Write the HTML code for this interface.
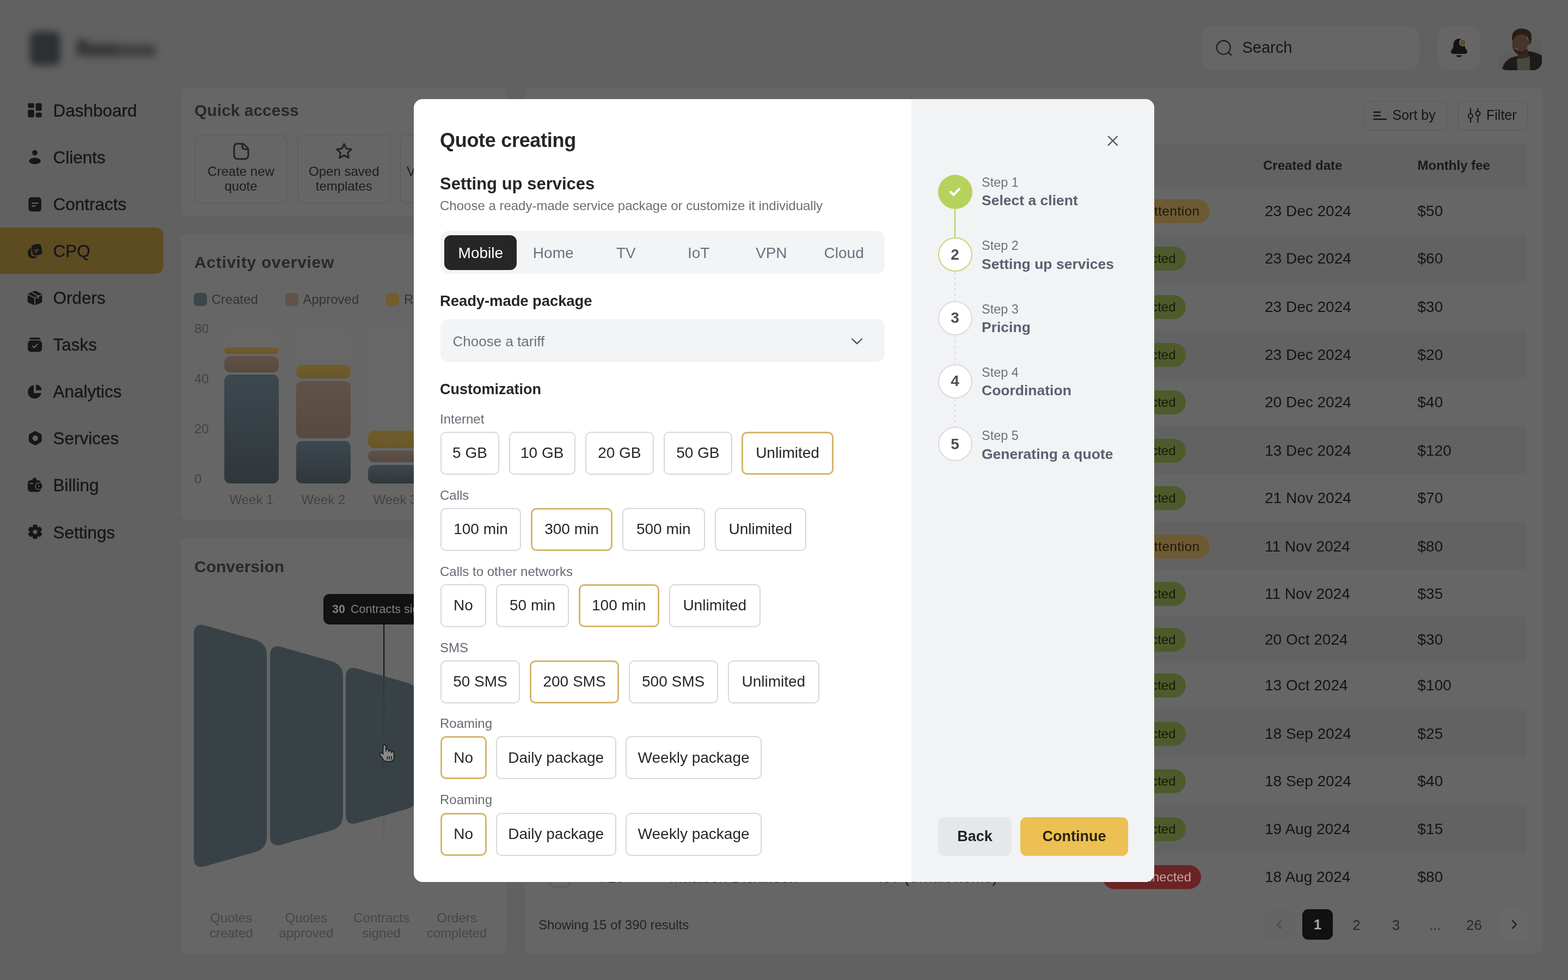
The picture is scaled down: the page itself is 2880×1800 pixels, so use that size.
<!DOCTYPE html>
<html lang="en"><head><meta charset="utf-8"><title>Quote creating</title><style>
*{margin:0;padding:0;box-sizing:border-box}
html,body{width:2880px;height:1800px;overflow:hidden}
body{position:relative;background:#616161;font-family:"Liberation Sans",Arial,sans-serif;color:#171717}
.a{position:absolute}
.t{position:absolute;line-height:1;white-space:nowrap}
.card{position:absolute;background:#666666;border-radius:12px}
.opt{position:absolute;height:79px;border:2px solid #d6d8de;border-radius:10px;background:#fff;display:flex;align-items:center;justify-content:center;font-size:28px;color:#262628;white-space:nowrap}
.opt.sel{border:3px solid #d4b66c;background:#fff}
.lbl{color:#6b717d}
svg{position:absolute;overflow:visible}
</style></head><body>
<div class="a" style="left:0;top:0;width:340px;height:160px;filter:blur(7px)"><div class="a" style="left:55px;top:58px;width:56px;height:62px;border-radius:12px;background:#2c3032"></div><div class="a" style="left:140px;top:72px;width:22px;height:30px;border-radius:5px;background:#383838"></div><div class="a" style="left:150px;top:80px;width:70px;height:24px;border-radius:6px;background:#3a3a3a"></div><div class="a" style="left:214px;top:82px;width:72px;height:22px;border-radius:6px;background:#404040"></div></div>
<div class="a " style="left:-20.0px;top:418.0px;width:320.0px;height:85.0px;background:#5d4b22;border-radius:14px;"></div>
<svg style="left:51px;top:189.3px" width="26" height="27" viewBox="0 0 26 27" fill="#171717"><rect x="0.2" y="0.6" width="11.6" height="8.6" rx="2.6"/><rect x="0.2" y="12.6" width="11.6" height="13.8" rx="2.6"/><rect x="14.6" y="0.6" width="11" height="14" rx="2.6"/><rect x="14.6" y="17.7" width="11" height="8.7" rx="2.6"/></svg>
<div class="t " style="left:97.5px;top:187.6px;font-size:31.5px;color:#171717;-webkit-text-stroke:0.35px #171717;">Dashboard</div>
<svg style="left:51px;top:275.4px" width="26" height="27" viewBox="0 0 26 27" fill="#171717"><circle cx="12.9" cy="5.6" r="4.9"/><ellipse cx="13" cy="20.6" rx="10.8" ry="5.8"/></svg>
<div class="t " style="left:97.5px;top:273.7px;font-size:31.5px;color:#171717;-webkit-text-stroke:0.35px #171717;">Clients</div>
<svg style="left:51px;top:361.5px" width="26" height="27" viewBox="0 0 26 27" fill="#171717"><rect x="1.3" y="0.2" width="23.6" height="26.4" rx="5.5"/><rect x="7" y="10" width="12.5" height="2.3" rx="1.1" fill="#616161"/><rect x="7" y="15.2" width="7.8" height="2.3" rx="1.1" fill="#616161"/></svg>
<div class="t " style="left:97.5px;top:359.8px;font-size:31.5px;color:#171717;-webkit-text-stroke:0.35px #171717;">Contracts</div>
<svg style="left:51px;top:447.6px" width="26" height="27" viewBox="0 0 26 27" fill="#171717"><path d="M6.5 7.5 Q1.5 9 0.4 13 L0.2 18 Q0.5 24 6 26 Q10 27.2 15 25.2 L18 23.5 L9 22.5 Q5.5 21.5 6 17.5 Z"/><g transform="rotate(-11 16.7 10.7)"><rect x="7.7" y="0.7" width="18" height="20" rx="5"/><rect x="11.5" y="9.8" width="9" height="2.1" rx="1" fill="#5d4b22"/><rect x="11.5" y="13.3" width="6.5" height="2.1" rx="1" fill="#5d4b22"/></g></svg>
<div class="t " style="left:97.5px;top:445.9px;font-size:31.5px;color:#171717;-webkit-text-stroke:0.35px #171717;">CPQ</div>
<svg style="left:51px;top:533.7px" width="26" height="27" viewBox="0 0 26 27" fill="#171717"><path d="M13 0.3 Q14.5 0.3 16 1 L24 5 Q26.4 6.2 26.4 9 L26.4 18.5 Q26.4 21 24 22.3 L15.5 26 Q13 27 10.5 26 L2 22.3 Q-0.3 21 -0.3 18.5 L-0.3 9 Q-0.3 6.2 2 5 L10 1 Q11.5 0.3 13 0.3 Z"/><path d="M0.5 7.2 L13 13.3 L25.5 7.2 M13 13.3 L13 27" stroke="#616161" stroke-width="1.8" fill="none"/><path d="M7.3 3.3 L19.2 9.5 L19.2 15.5" stroke="#616161" stroke-width="1.8" fill="none"/></svg>
<div class="t " style="left:97.5px;top:532.0px;font-size:31.5px;color:#171717;-webkit-text-stroke:0.35px #171717;">Orders</div>
<svg style="left:51px;top:619.8px" width="26" height="27" viewBox="0 0 26 27" fill="#171717"><path d="M2.5 3.4 Q3 0 7 0 L19 0 Q23 0 23.6 3.4 Z"/><rect x="0" y="5.2" width="26.1" height="21" rx="6"/><path d="M9 15.5 L12 18.5 L17.5 12.5" stroke="#616161" stroke-width="2.2" fill="none" stroke-linecap="round" stroke-linejoin="round"/></svg>
<div class="t " style="left:97.5px;top:618.1px;font-size:31.5px;color:#171717;-webkit-text-stroke:0.35px #171717;">Tasks</div>
<svg style="left:51px;top:705.9px" width="26" height="27" viewBox="0 0 26 27" fill="#171717"><path d="M11 1.5 L11 16 L24.8 16 A12.4 12.4 0 1 1 11 1.5 Z"/><path d="M15.2 0.5 A10.3 10.3 0 0 1 25.5 10.8 L15.2 10.8 Z"/></svg>
<div class="t " style="left:97.5px;top:704.2px;font-size:31.5px;color:#171717;-webkit-text-stroke:0.35px #171717;">Analytics</div>
<svg style="left:51px;top:792.0px" width="26" height="27" viewBox="0 0 26 27" fill="#171717"><path d="M12 0.2 Q13.7 -0.6 15.4 0.2 L23.8 5 Q25.5 6 25.5 8 L25.5 17.6 Q25.5 19.6 23.8 20.6 L15.4 25.4 Q13.7 26.2 12 25.4 L3.6 20.6 Q1.9 19.6 1.9 17.6 L1.9 8 Q1.9 6 3.6 5 Z"/><circle cx="13.7" cy="12.8" r="5.2" fill="#616161"/></svg>
<div class="t " style="left:97.5px;top:790.3px;font-size:31.5px;color:#171717;-webkit-text-stroke:0.35px #171717;">Services</div>
<svg style="left:51px;top:878.1px" width="26" height="27" viewBox="0 0 26 27" fill="#171717"><path d="M8.3 3.9 Q9 -0.4 12.4 -0.4 Q15.8 -0.4 16.5 3.9 Z"/><rect x="0" y="3.9" width="24.2" height="21.5" rx="5.5"/><rect x="3.6" y="9.1" width="6.5" height="1.8" rx="0.9" fill="#616161"/><rect x="13.6" y="8.3" width="13.4" height="13.2" rx="5.3" fill="#616161"/><rect x="15" y="9.6" width="11.4" height="10.6" rx="4.4"/><circle cx="20.4" cy="14.8" r="1.5" fill="#616161"/></svg>
<div class="t " style="left:97.5px;top:876.4px;font-size:31.5px;color:#171717;-webkit-text-stroke:0.35px #171717;">Billing</div>
<svg style="left:51px;top:964.2px" width="26" height="27" viewBox="0 0 26 27" fill="#171717"><g transform="translate(13.5 12.8)"><rect x="-4.4" y="-13.2" width="8.8" height="26.4" rx="3.6"/><rect x="-4.4" y="-13.2" width="8.8" height="26.4" rx="3.6" transform="rotate(60)"/><rect x="-4.4" y="-13.2" width="8.8" height="26.4" rx="3.6" transform="rotate(120)"/><circle r="9.3"/><circle r="3.9" fill="#616161"/></g></svg>
<div class="t " style="left:97.5px;top:962.5px;font-size:31.5px;color:#171717;-webkit-text-stroke:0.35px #171717;">Settings</div>
<div class="a " style="left:2208.0px;top:49.0px;width:399.0px;height:79.0px;background:#666666;border-radius:18px;"></div>
<svg style="left:2232px;top:72px" width="34" height="34" viewBox="0 0 34 34" fill="none" stroke="#131313" stroke-width="1.9" stroke-linecap="round"><circle cx="15.3" cy="15.3" r="12.5"/><path d="M24.3 24.3 L29.6 29.3"/></svg>
<div class="t " style="left:2281.5px;top:72.7px;font-size:29px;color:#161616;">Search</div>
<div class="a " style="left:2640.0px;top:49.0px;width:79.0px;height:79.0px;background:#666666;border-radius:18px;"></div>
<svg style="left:2655px;top:60px" width="50" height="50" viewBox="0 0 50 50"><path d="M24.5 11.2 C18.5 11.2 15 15.5 14.6 21 L14.2 26.5 C13.8 30 10 31.5 10 34.8 C10 37.6 12.3 39 15.5 39 L34.5 39 C37.7 39 40 37.6 40 34.8 C40 31.5 36.2 30 35.8 26.5 L35.4 21 C35 15.5 31 11.2 25.5 11.2 Z" fill="#141414"/><path d="M19.5 41.6 L30 41.6 Q29.2 45 24.75 45 Q20.3 45 19.5 41.6 Z" fill="#141414"/><circle cx="31.8" cy="18.2" r="6.8" fill="#75746f"/><circle cx="31.8" cy="18.2" r="5.2" fill="#5c4d22"/></svg>
<div class="a" style="left:2752px;top:49px;width:80px;height:80px;border-radius:16px;overflow:hidden;background:linear-gradient(160deg,#626262 0%,#606060 45%,#545452 100%)"><svg style="left:0;top:0;filter:blur(0.4px)" width="80" height="80" viewBox="0 0 80 80"><path d="M6 80 L10 70 Q16 58 30 55 L36 54 L56 45 Q70 47 80 53 L80 80 Z" fill="#1d1a18"/><path d="M34 58 Q46 60 58 54 L58 80 L35 80 Z" fill="#4a4743"/><path d="M35 44 L54 41 L56 55 Q45 60 36 57 Z" fill="#36271e"/><ellipse cx="40" cy="30" rx="14.5" ry="19" fill="#48342a"/><path d="M25 23 Q24 6 40 3.6 Q55 3 60 12 Q62 20 60 31 L56.5 28 Q55 16 45 14 Q33 13 27 25 Z" fill="#2b1d15"/><ellipse cx="56" cy="29" rx="3" ry="4.5" fill="#44312a"/><path d="M26 35 Q28 50 40 51 Q50 50 54 40 Q50 46 42 46 Q33 45 26 35 Z" fill="#2d1f17"/><path d="M28.5 39.5 Q32 42.5 37 40.5" stroke="#6b5446" stroke-width="1.6" fill="none"/></svg></div>
<div class="card" style="left:332px;top:161px;width:599px;height:236px"></div>
<div class="t " style="left:357.0px;top:188.3px;font-size:30px;color:#262a2d;font-weight:700;">Quick access</div>
<div class="a " style="left:357.0px;top:247.0px;width:171.0px;height:127.0px;border:2px solid #5f5f5f;border-radius:12px;"></div>
<div class="a " style="left:546.0px;top:247.0px;width:172.0px;height:127.0px;border:2px solid #5f5f5f;border-radius:12px;"></div>
<div class="a " style="left:734.0px;top:247.0px;width:172.0px;height:127.0px;border:2px solid #5f5f5f;border-radius:12px;"></div>
<svg style="left:428px;top:262px" width="30" height="32" viewBox="0 0 30 32" fill="none" stroke="#202224" stroke-width="3" stroke-linejoin="round"><path d="M8 2 L17 2 Q19 2 21 4 L26 9 Q28 11 28 13 L28 23 Q28 30 21 30 L9 30 Q2 30 2 23 L2 9 Q2 2 8 2 Z"/><path d="M17 2.5 L17 7 Q17 12 22 12 L27.5 12"/></svg>
<svg style="left:616px;top:262px" width="32" height="32" viewBox="0 0 32 32" fill="none" stroke="#202224" stroke-width="3" stroke-linejoin="round"><path d="M16 2.5 L20 11 L29.5 12.2 L22.6 18.7 L24.4 28 L16 23.4 L7.6 28 L9.4 18.7 L2.5 12.2 L12 11 Z"/></svg>
<div class="t " style="left:442.5px;top:303.1px;font-size:24px;color:#1c1c1c;transform:translateX(-50%);">Create new</div>
<div class="t " style="left:442.5px;top:330.3px;font-size:24px;color:#1c1c1c;transform:translateX(-50%);">quote</div>
<div class="t " style="left:631.8px;top:303.1px;font-size:24px;color:#1c1c1c;transform:translateX(-50%);">Open saved</div>
<div class="t " style="left:631.8px;top:330.3px;font-size:24px;color:#1c1c1c;transform:translateX(-50%);">templates</div>
<div class="t " style="left:747.0px;top:303.1px;font-size:24px;color:#1c1c1c;">View all</div>
<div class="card" style="left:332px;top:430px;width:599px;height:525px"></div>
<div class="t " style="left:357.0px;top:467.3px;font-size:30px;color:#262a2d;font-weight:700;letter-spacing:0.7px;">Activity overview</div>
<div class="a " style="left:355.5px;top:538.0px;width:24.0px;height:24.0px;background:#3b464c;border-radius:6px;"></div>
<div class="t " style="left:388.5px;top:538.2px;font-size:24px;color:#303438;">Created</div>
<div class="a " style="left:523.5px;top:538.0px;width:24.0px;height:24.0px;background:#61534a;border-radius:6px;"></div>
<div class="t " style="left:556.5px;top:538.2px;font-size:24px;color:#303438;">Approved</div>
<div class="a " style="left:709.0px;top:538.0px;width:24.0px;height:24.0px;background:#715e2b;border-radius:6px;"></div>
<div class="t " style="left:742.0px;top:538.2px;font-size:24px;color:#303438;">Rejected</div>
<div class="t " style="left:357.0px;top:591.9px;font-size:24px;color:#404347;">80</div>
<div class="t " style="left:357.0px;top:683.9px;font-size:24px;color:#404347;">40</div>
<div class="t " style="left:357.0px;top:776.3px;font-size:24px;color:#404347;">20</div>
<div class="t " style="left:357.0px;top:867.6px;font-size:24px;color:#404347;">0</div>
<div class="a " style="left:412.0px;top:604.0px;width:100.0px;height:283.0px;background:#676767;border-radius:12px;"></div>
<div class="a " style="left:412.0px;top:638.0px;width:100.0px;height:12.0px;background:linear-gradient(180deg,#715c2b,#6a5729);border-radius:6px;"></div>
<div class="a " style="left:412.0px;top:654.0px;width:100.0px;height:30.0px;background:linear-gradient(180deg,#605249,#56493f);border-radius:11px;"></div>
<div class="a " style="left:412.0px;top:688.0px;width:100.0px;height:200.0px;background:linear-gradient(180deg,#3c484f,#30373b);border-radius:11px;"></div>
<div class="a " style="left:544.0px;top:604.0px;width:100.0px;height:283.0px;background:#676767;border-radius:12px;"></div>
<div class="a " style="left:544.0px;top:670.0px;width:100.0px;height:25.0px;background:linear-gradient(180deg,#715c2b,#6a5729);border-radius:11px;"></div>
<div class="a " style="left:544.0px;top:700.0px;width:100.0px;height:105.0px;background:linear-gradient(180deg,#605249,#56493f);border-radius:11px;"></div>
<div class="a " style="left:544.0px;top:810.0px;width:100.0px;height:78.0px;background:linear-gradient(180deg,#3c484f,#30373b);border-radius:11px;"></div>
<div class="a " style="left:676.0px;top:604.0px;width:100.0px;height:283.0px;background:#676767;border-radius:12px;"></div>
<div class="a " style="left:676.0px;top:791.0px;width:100.0px;height:32.0px;background:linear-gradient(180deg,#715c2b,#6a5729);border-radius:11px;"></div>
<div class="a " style="left:676.0px;top:828.0px;width:100.0px;height:21.0px;background:linear-gradient(180deg,#605249,#56493f);border-radius:10px;"></div>
<div class="a " style="left:676.0px;top:853.5px;width:100.0px;height:34.5px;background:linear-gradient(180deg,#3c484f,#30373b);border-radius:11px;"></div>
<div class="t " style="left:462.0px;top:906.2px;font-size:24px;color:#404347;transform:translateX(-50%);">Week 1</div>
<div class="t " style="left:594.0px;top:906.2px;font-size:24px;color:#404347;transform:translateX(-50%);">Week 2</div>
<div class="t " style="left:726.0px;top:906.2px;font-size:24px;color:#404347;transform:translateX(-50%);">Week 3</div>
<div class="t " style="left:858.0px;top:906.2px;font-size:24px;color:#404347;transform:translateX(-50%);">Week 4</div>
<div class="card" style="left:332px;top:988px;width:599px;height:763px"></div>
<div class="t " style="left:357.0px;top:1025.6px;font-size:30px;color:#262a2d;font-weight:700;">Conversion</div>
<svg style="left:0;top:0" width="2880" height="1800" viewBox="0 0 2880 1800"><defs><linearGradient id="vlg" gradientUnits="userSpaceOnUse" x1="0" y1="1146" x2="0" y2="1585"><stop offset="0" stop-color="#111" stop-opacity="1"/><stop offset="0.237" stop-color="#111" stop-opacity="1"/><stop offset="0.76" stop-color="#111" stop-opacity="0.15"/><stop offset="1" stop-color="#111" stop-opacity="0"/></linearGradient></defs><rect x="704.2" y="1146" width="2" height="439" fill="url(#vlg)"/><path d="M356.0 1165.0 Q356.0 1143.0 377.2 1149.0 L468.8 1174.9 Q490.0 1180.9 490.0 1202.9 L490.0 1536.9 Q490.0 1558.9 468.8 1565.0 L377.2 1591.0 Q356.0 1597.0 356.0 1575.0 Z" fill="#333e42" fill-opacity="0.9"/><path d="M496.0 1204.6 Q496.0 1182.6 517.2 1188.6 L608.8 1214.6 Q630.0 1220.5 630.0 1242.5 L630.0 1497.2 Q630.0 1519.2 608.8 1525.2 L517.2 1551.2 Q496.0 1557.2 496.0 1535.2 Z" fill="#333e42" fill-opacity="0.9"/><path d="M635.0 1244.0 Q635.0 1222.0 656.2 1227.9 L747.8 1253.9 Q769.0 1259.9 769.0 1281.9 L769.0 1457.7 Q769.0 1479.7 747.8 1485.7 L656.2 1511.8 Q635.0 1517.8 635.0 1495.8 Z" fill="#333e42" fill-opacity="0.9"/><path d="M775.0 1283.6 Q775.0 1261.6 796.2 1267.6 L887.8 1293.5 Q909.0 1299.5 909.0 1321.5 L909.0 1417.9 Q909.0 1439.9 887.8 1446.0 L796.2 1472.0 Q775.0 1478.0 775.0 1456.0 Z" fill="#333e42" fill-opacity="0.9"/></svg>
<div class="a " style="left:594.0px;top:1091.0px;width:300.0px;height:56.0px;background:#121212;border-radius:11px;"></div>
<div class="t " style="left:610.0px;top:1109.3px;font-size:21.5px;color:#808080;font-weight:700;">30</div>
<div class="t " style="left:644.0px;top:1109.3px;font-size:21.5px;color:#808080;">Contracts signed</div>
<div class="t " style="left:424.7px;top:1673.7px;font-size:24px;color:#474747;transform:translateX(-50%);">Quotes</div>
<div class="t " style="left:424.7px;top:1701.7px;font-size:24px;color:#474747;transform:translateX(-50%);">created</div>
<div class="t " style="left:562.4px;top:1673.7px;font-size:24px;color:#474747;transform:translateX(-50%);">Quotes</div>
<div class="t " style="left:562.4px;top:1701.7px;font-size:24px;color:#474747;transform:translateX(-50%);">approved</div>
<div class="t " style="left:700.6px;top:1673.7px;font-size:24px;color:#474747;transform:translateX(-50%);">Contracts</div>
<div class="t " style="left:700.6px;top:1701.7px;font-size:24px;color:#474747;transform:translateX(-50%);">signed</div>
<div class="t " style="left:839.0px;top:1673.7px;font-size:24px;color:#474747;transform:translateX(-50%);">Orders</div>
<div class="t " style="left:839.0px;top:1701.7px;font-size:24px;color:#474747;transform:translateX(-50%);">completed</div>
<svg style="left:696.3px;top:1368px" width="28.9" height="32.3" viewBox="0 0 34 38"><path d="M9 3 Q9 0 12 0 Q15 0 15 3 L15 14 L15 12 Q15 9.5 18 9.5 Q21 9.5 21 12 L21 15 Q21 12.5 24 12.5 Q27 12.5 27 15 L27 17 Q27 15 29.5 15 Q32.5 15 32.5 18 L32.5 27 Q32.5 36 24 36 L17 36 Q12 36 9 31 L2.5 22 Q1 19.5 3.5 18 Q6 16.5 8 19 L9 20.5 Z" fill="#8a8a8a" stroke="#1a1a1a" stroke-width="2" stroke-linejoin="round"/><path d="M18 25 L18 31 M22.5 25 L22.5 31 M27 25 L27 31" stroke="#1a1a1a" stroke-width="2" stroke-linecap="round"/></svg>
<div class="card" style="left:964px;top:161px;width:1869px;height:1591px"></div>
<div class="a " style="left:2505.0px;top:185.0px;width:154.0px;height:55.0px;border:2px solid #5f5f5f;border-radius:11px;"></div>
<svg style="left:2522px;top:204px" width="26" height="18" viewBox="0 0 26 18" stroke="#151515" stroke-width="2.4" stroke-linecap="round"><path d="M1.5 2 L13 2 M1.5 8.5 L13 8.5 M1.5 15 L24 15"/></svg>
<div class="t " style="left:2557.5px;top:198.8px;font-size:25px;color:#151515;">Sort by</div>
<div class="a " style="left:2677.0px;top:185.0px;width:130.0px;height:55.0px;border:2px solid #5f5f5f;border-radius:11px;"></div>
<svg style="left:2695px;top:198px" width="26" height="28" viewBox="0 0 26 28" fill="none" stroke="#151515" stroke-width="2.2" stroke-linecap="round"><path d="M6 1.5 L6 11 M6 19 L6 26.5 M19.5 1.5 L19.5 6.5 M19.5 14.5 L19.5 26.5"/><circle cx="6" cy="15" r="4"/><circle cx="19.5" cy="10.5" r="4"/></svg>
<div class="t " style="left:2730.0px;top:198.8px;font-size:25px;color:#151515;">Filter</div>
<div class="a " style="left:989.0px;top:264.5px;width:1814.0px;height:80.0px;background:#626262;"></div>
<div class="t " style="left:2320.0px;top:292.0px;font-size:24px;color:#1a1a1a;font-weight:700;">Created date</div>
<div class="t " style="left:2603.5px;top:292.0px;font-size:24px;color:#1a1a1a;font-weight:700;">Monthly fee</div>
<div class="a " style="left:989.0px;top:431.2px;width:1814.0px;height:88.0px;background:#626262;"></div>
<div class="a " style="left:989.0px;top:607.5px;width:1814.0px;height:87.8px;background:#626262;"></div>
<div class="a " style="left:989.0px;top:783.2px;width:1814.0px;height:88.0px;background:#626262;"></div>
<div class="a " style="left:989.0px;top:959.2px;width:1814.0px;height:88.0px;background:#626262;"></div>
<div class="a " style="left:989.0px;top:1133.0px;width:1814.0px;height:84.0px;background:#626262;"></div>
<div class="a " style="left:989.0px;top:1303.2px;width:1814.0px;height:88.0px;background:#626262;"></div>
<div class="a " style="left:989.0px;top:1479.0px;width:1814.0px;height:88.0px;background:#626262;"></div>
<div class="a " style="left:1971.6px;top:365.5px;width:250.0px;height:44.0px;background:#6d5a33;border-radius:22px;display:flex;align-items:center;justify-content:flex-end;padding-right:18px;font-size:24px;color:#1e1708;white-space:nowrap;letter-spacing:0.6px;">Needs attention</div>
<div class="t " style="left:2323.0px;top:373.8px;font-size:28px;color:#141414;">23 Dec 2024</div>
<div class="t " style="left:2603.5px;top:373.8px;font-size:28px;color:#141414;">$50</div>
<div class="a " style="left:2017.5px;top:453.0px;width:160.0px;height:44.0px;background:#4e5a2b;border-radius:22px;display:flex;align-items:center;justify-content:flex-end;padding-right:18px;font-size:24px;color:#141a06;white-space:nowrap;">Connected</div>
<div class="t " style="left:2323.0px;top:461.3px;font-size:28px;color:#141414;">23 Dec 2024</div>
<div class="t " style="left:2603.5px;top:461.3px;font-size:28px;color:#141414;">$60</div>
<div class="a " style="left:2017.5px;top:541.5px;width:160.0px;height:44.0px;background:#4e5a2b;border-radius:22px;display:flex;align-items:center;justify-content:flex-end;padding-right:18px;font-size:24px;color:#141a06;white-space:nowrap;">Connected</div>
<div class="t " style="left:2323.0px;top:549.8px;font-size:28px;color:#141414;">23 Dec 2024</div>
<div class="t " style="left:2603.5px;top:549.8px;font-size:28px;color:#141414;">$30</div>
<div class="a " style="left:2017.5px;top:629.5px;width:160.0px;height:44.0px;background:#4e5a2b;border-radius:22px;display:flex;align-items:center;justify-content:flex-end;padding-right:18px;font-size:24px;color:#141a06;white-space:nowrap;">Connected</div>
<div class="t " style="left:2323.0px;top:637.8px;font-size:28px;color:#141414;">23 Dec 2024</div>
<div class="t " style="left:2603.5px;top:637.8px;font-size:28px;color:#141414;">$20</div>
<div class="a " style="left:2017.5px;top:717.0px;width:160.0px;height:44.0px;background:#4e5a2b;border-radius:22px;display:flex;align-items:center;justify-content:flex-end;padding-right:18px;font-size:24px;color:#141a06;white-space:nowrap;">Connected</div>
<div class="t " style="left:2323.0px;top:725.3px;font-size:28px;color:#141414;">20 Dec 2024</div>
<div class="t " style="left:2603.5px;top:725.3px;font-size:28px;color:#141414;">$40</div>
<div class="a " style="left:2017.5px;top:805.5px;width:160.0px;height:44.0px;background:#4e5a2b;border-radius:22px;display:flex;align-items:center;justify-content:flex-end;padding-right:18px;font-size:24px;color:#141a06;white-space:nowrap;">Connected</div>
<div class="t " style="left:2323.0px;top:813.8px;font-size:28px;color:#141414;">13 Dec 2024</div>
<div class="t " style="left:2603.5px;top:813.8px;font-size:28px;color:#141414;">$120</div>
<div class="a " style="left:2017.5px;top:893.0px;width:160.0px;height:44.0px;background:#4e5a2b;border-radius:22px;display:flex;align-items:center;justify-content:flex-end;padding-right:18px;font-size:24px;color:#141a06;white-space:nowrap;">Connected</div>
<div class="t " style="left:2323.0px;top:901.3px;font-size:28px;color:#141414;">21 Nov 2024</div>
<div class="t " style="left:2603.5px;top:901.3px;font-size:28px;color:#141414;">$70</div>
<div class="a " style="left:1971.6px;top:981.5px;width:250.0px;height:44.0px;background:#6d5a33;border-radius:22px;display:flex;align-items:center;justify-content:flex-end;padding-right:18px;font-size:24px;color:#1e1708;white-space:nowrap;letter-spacing:0.6px;">Needs attention</div>
<div class="t " style="left:2323.0px;top:989.8px;font-size:28px;color:#141414;">11 Nov 2024</div>
<div class="t " style="left:2603.5px;top:989.8px;font-size:28px;color:#141414;">$80</div>
<div class="a " style="left:2017.5px;top:1069.0px;width:160.0px;height:44.0px;background:#4e5a2b;border-radius:22px;display:flex;align-items:center;justify-content:flex-end;padding-right:18px;font-size:24px;color:#141a06;white-space:nowrap;">Connected</div>
<div class="t " style="left:2323.0px;top:1077.3px;font-size:28px;color:#141414;">11 Nov 2024</div>
<div class="t " style="left:2603.5px;top:1077.3px;font-size:28px;color:#141414;">$35</div>
<div class="a " style="left:2017.5px;top:1153.0px;width:160.0px;height:44.0px;background:#4e5a2b;border-radius:22px;display:flex;align-items:center;justify-content:flex-end;padding-right:18px;font-size:24px;color:#141a06;white-space:nowrap;">Connected</div>
<div class="t " style="left:2323.0px;top:1161.3px;font-size:28px;color:#141414;">20 Oct 2024</div>
<div class="t " style="left:2603.5px;top:1161.3px;font-size:28px;color:#141414;">$30</div>
<div class="a " style="left:2017.5px;top:1237.0px;width:160.0px;height:44.0px;background:#4e5a2b;border-radius:22px;display:flex;align-items:center;justify-content:flex-end;padding-right:18px;font-size:24px;color:#141a06;white-space:nowrap;">Connected</div>
<div class="t " style="left:2323.0px;top:1245.3px;font-size:28px;color:#141414;">13 Oct 2024</div>
<div class="t " style="left:2603.5px;top:1245.3px;font-size:28px;color:#141414;">$100</div>
<div class="a " style="left:2017.5px;top:1325.5px;width:160.0px;height:44.0px;background:#4e5a2b;border-radius:22px;display:flex;align-items:center;justify-content:flex-end;padding-right:18px;font-size:24px;color:#141a06;white-space:nowrap;">Connected</div>
<div class="t " style="left:2323.0px;top:1333.8px;font-size:28px;color:#141414;">18 Sep 2024</div>
<div class="t " style="left:2603.5px;top:1333.8px;font-size:28px;color:#141414;">$25</div>
<div class="a " style="left:2017.5px;top:1413.0px;width:160.0px;height:44.0px;background:#4e5a2b;border-radius:22px;display:flex;align-items:center;justify-content:flex-end;padding-right:18px;font-size:24px;color:#141a06;white-space:nowrap;">Connected</div>
<div class="t " style="left:2323.0px;top:1421.3px;font-size:28px;color:#141414;">18 Sep 2024</div>
<div class="t " style="left:2603.5px;top:1421.3px;font-size:28px;color:#141414;">$40</div>
<div class="a " style="left:2017.5px;top:1501.0px;width:160.0px;height:44.0px;background:#4e5a2b;border-radius:22px;display:flex;align-items:center;justify-content:flex-end;padding-right:18px;font-size:24px;color:#141a06;white-space:nowrap;">Connected</div>
<div class="t " style="left:2323.0px;top:1509.3px;font-size:28px;color:#141414;">19 Aug 2024</div>
<div class="t " style="left:2603.5px;top:1509.3px;font-size:28px;color:#141414;">$15</div>
<div class="a " style="left:2025.0px;top:1589.0px;width:181.0px;height:44.0px;background:#6a2424;border-radius:22px;display:flex;align-items:center;justify-content:flex-end;padding-right:18px;font-size:24px;color:#c9a3a3;white-space:nowrap;">Disconnected</div>
<div class="t " style="left:2323.0px;top:1597.3px;font-size:28px;color:#141414;">18 Aug 2024</div>
<div class="t " style="left:2603.5px;top:1597.3px;font-size:28px;color:#141414;">$80</div>
<div class="a " style="left:1009.0px;top:1592.0px;width:38.0px;height:38.0px;border:2px solid #5a5a5a;border-radius:8px;"></div>
<div class="t " style="left:1100.0px;top:1598.3px;font-size:28px;color:#141414;">#16</div>
<div class="t " style="left:1230.0px;top:1598.3px;font-size:28px;color:#141414;">Madison Dickinson</div>
<div class="t " style="left:1613.0px;top:1598.3px;font-size:28px;color:#141414;">IoT (Smart home)</div>
<div class="t " style="left:989.0px;top:1686.7px;font-size:24px;color:#232323;">Showing 15 of 390 results</div>
<div class="a " style="left:2322.0px;top:1670.0px;width:56.0px;height:56.0px;background:#646464;border-radius:11px;"></div>
<svg style="left:2340px;top:1688px" width="20" height="20" viewBox="0 0 20 20" fill="none" stroke="#4a4a4a" stroke-width="2.4" stroke-linecap="round" stroke-linejoin="round"><path d="M13 3 L6 10 L13 17"/></svg>
<div class="a " style="left:2392.0px;top:1670.0px;width:56.0px;height:56.0px;background:#111111;border-radius:11px;display:flex;align-items:center;justify-content:center;color:#a6a6a6;font-size:26px;font-weight:700">1</div>
<div class="t " style="left:2491.5px;top:1686.0px;font-size:26px;color:#2a2a2a;transform:translateX(-50%);">2</div>
<div class="t " style="left:2564.0px;top:1686.0px;font-size:26px;color:#2a2a2a;transform:translateX(-50%);">3</div>
<div class="t " style="left:2635.5px;top:1686.0px;font-size:26px;color:#2a2a2a;transform:translateX(-50%);">...</div>
<div class="t " style="left:2707.5px;top:1686.0px;font-size:26px;color:#2a2a2a;transform:translateX(-50%);">26</div>
<div class="a " style="left:2752.0px;top:1670.0px;width:56.0px;height:56.0px;background:#686868;border-radius:11px;"></div>
<svg style="left:2771px;top:1688px" width="20" height="20" viewBox="0 0 20 20" fill="none" stroke="#1a1a1a" stroke-width="2.4" stroke-linecap="round" stroke-linejoin="round"><path d="M7 3 L14 10 L7 17"/></svg>
<div class="a" style="left:760px;top:182px;width:1360px;height:1438px;border-radius:16px;overflow:hidden;background:#ffffff">
<div class="a" style="left:914px;top:0;width:446px;height:1438px;background:#f2f3f5"></div>
</div>
<div class="t " style="left:808.0px;top:239.5px;font-size:36px;color:#262626;font-weight:700;letter-spacing:-0.3px;">Quote creating</div>
<div class="t " style="left:808.0px;top:322.3px;font-size:31px;color:#262626;font-weight:700;">Setting up services</div>
<div class="t " style="left:808.0px;top:366.2px;font-size:24px;color:#6a6e77;">Choose a ready-made service package or customize it individually</div>
<div class="a " style="left:809.0px;top:424.0px;width:816.0px;height:79.0px;background:#f3f4f6;border-radius:15px;"></div>
<div class="a " style="left:816.0px;top:432.0px;width:133.0px;height:63.5px;background:#262626;border-radius:12px;"></div>
<div class="t " style="left:882.8px;top:451.1px;font-size:28px;color:#ffffff;transform:translateX(-50%);">Mobile</div>
<div class="t " style="left:1016.2px;top:451.1px;font-size:28px;color:#6b717d;transform:translateX(-50%);">Home</div>
<div class="t " style="left:1149.8px;top:451.1px;font-size:28px;color:#6b717d;transform:translateX(-50%);">TV</div>
<div class="t " style="left:1283.2px;top:451.1px;font-size:28px;color:#6b717d;transform:translateX(-50%);">IoT</div>
<div class="t " style="left:1416.8px;top:451.1px;font-size:28px;color:#6b717d;transform:translateX(-50%);">VPN</div>
<div class="t " style="left:1550.2px;top:451.1px;font-size:28px;color:#6b717d;transform:translateX(-50%);">Cloud</div>
<div class="t " style="left:808.0px;top:539.3px;font-size:27.5px;color:#262626;font-weight:700;letter-spacing:-0.1px;">Ready-made package</div>
<div class="a " style="left:809.0px;top:586.0px;width:816.0px;height:79.0px;background:#f3f4f6;border-radius:15px;"></div>
<div class="t " style="left:831.6px;top:614.0px;font-size:26px;color:#6b717d;">Choose a tariff</div>
<svg style="left:1563px;top:619.5px" width="22" height="14" viewBox="0 0 22 14" fill="none" stroke="#4b5059" stroke-width="2.4" stroke-linecap="round" stroke-linejoin="miter"><path d="M2 2.5 L11 11 L20 2.5"/></svg>
<div class="t " style="left:808.0px;top:701.8px;font-size:27px;color:#262626;font-weight:700;">Customization</div>
<div class="t " style="left:808.0px;top:758.1px;font-size:24px;color:#656a75;">Internet</div>
<div class="opt" style="left:809.0px;top:792.5px;width:108.0px">5 GB</div>
<div class="opt" style="left:934.5px;top:792.5px;width:122.5px">10 GB</div>
<div class="opt" style="left:1074.7px;top:792.5px;width:126.3px">20 GB</div>
<div class="opt" style="left:1218.7px;top:792.5px;width:126.3px">50 GB</div>
<div class="opt sel" style="left:1362.0px;top:792.5px;width:169.0px">Unlimited</div>
<div class="t " style="left:808.0px;top:897.7px;font-size:24px;color:#656a75;">Calls</div>
<div class="opt" style="left:809.0px;top:932.5px;width:148.0px">100 min</div>
<div class="opt sel" style="left:975.0px;top:932.5px;width:150.0px">300 min</div>
<div class="opt" style="left:1142.6px;top:932.5px;width:152.4px">500 min</div>
<div class="opt" style="left:1312.6px;top:932.5px;width:168.4px">Unlimited</div>
<div class="t " style="left:808.0px;top:1038.2px;font-size:24px;color:#656a75;">Calls to other networks</div>
<div class="opt" style="left:809.0px;top:1072.5px;width:84.0px">No</div>
<div class="opt" style="left:911.0px;top:1072.5px;width:134.0px">50 min</div>
<div class="opt sel" style="left:1062.7px;top:1072.5px;width:148.3px">100 min</div>
<div class="opt" style="left:1228.5px;top:1072.5px;width:168.5px">Unlimited</div>
<div class="t " style="left:808.0px;top:1177.7px;font-size:24px;color:#656a75;">SMS</div>
<div class="opt" style="left:809.0px;top:1212.5px;width:146.0px">50 SMS</div>
<div class="opt sel" style="left:973.0px;top:1212.5px;width:164.0px">200 SMS</div>
<div class="opt" style="left:1154.6px;top:1212.5px;width:164.0px">500 SMS</div>
<div class="opt" style="left:1336.7px;top:1212.5px;width:168.3px">Unlimited</div>
<div class="t " style="left:808.0px;top:1317.3px;font-size:24px;color:#656a75;">Roaming</div>
<div class="opt sel" style="left:809.0px;top:1352.1px;width:84.5px">No</div>
<div class="opt" style="left:910.8px;top:1352.1px;width:220.8px">Daily package</div>
<div class="opt" style="left:1148.9px;top:1352.1px;width:250.4px">Weekly package</div>
<div class="t " style="left:808.0px;top:1457.2px;font-size:24px;color:#656a75;">Roaming</div>
<div class="opt sel" style="left:809.0px;top:1492.5px;width:84.5px">No</div>
<div class="opt" style="left:910.8px;top:1492.5px;width:220.8px">Daily package</div>
<div class="opt" style="left:1148.9px;top:1492.5px;width:250.4px">Weekly package</div>
<svg style="left:2034px;top:248.5px" width="20" height="20" viewBox="0 0 20 20" stroke="#565b66" stroke-width="2.4" stroke-linecap="round"><path d="M1.8 1.5 L18 17.7 M18 1.5 L1.8 17.7"/></svg>
<svg style="left:0;top:0" width="2880" height="1800" viewBox="0 0 2880 1800"><line x1="1754" y1="383" x2="1754" y2="437" stroke="#b7d25c" stroke-width="2.2"/><line x1="1754" y1="499.3" x2="1754" y2="552.5" stroke="#d3d6db" stroke-width="1.6" stroke-dasharray="5 5"/><line x1="1754" y1="615.5" x2="1754" y2="668.5" stroke="#d3d6db" stroke-width="1.6" stroke-dasharray="5 5"/><line x1="1754" y1="731.5" x2="1754" y2="784.3" stroke="#d3d6db" stroke-width="1.6" stroke-dasharray="5 5"/></svg>
<div class="a" style="left:1722.5px;top:320.5px;width:63px;height:63px;border-radius:50%;background:#b7d25c"></div>
<svg style="left:1743px;top:344px" width="22" height="17" viewBox="0 0 22 17" fill="none" stroke="#ffffff" stroke-width="4" stroke-linecap="round" stroke-linejoin="round"><path d="M3 8.5 L8.5 14 L19 3"/></svg>
<div class="t " style="left:1803.0px;top:323.9px;font-size:23.5px;color:#6b717d;">Step 1</div>
<div class="t " style="left:1803.0px;top:355.3px;font-size:26.5px;color:#5b6070;font-weight:700;">Select a client</div>
<div class="a" style="left:1722.5px;top:436.3px;width:63px;height:63px;border-radius:50%;background:#ffffff;border:2px solid #c3d877;display:flex;align-items:center;justify-content:center;font-size:28px;font-weight:700;color:#4a4f5a">2</div>
<div class="t " style="left:1803.0px;top:440.2px;font-size:23.5px;color:#6b717d;">Step 2</div>
<div class="t " style="left:1803.0px;top:471.6px;font-size:26.5px;color:#5b6070;font-weight:700;">Setting up services</div>
<div class="a" style="left:1722.5px;top:552.5px;width:63px;height:63px;border-radius:50%;background:#ffffff;border:2px solid #d8dade;display:flex;align-items:center;justify-content:center;font-size:28px;font-weight:700;color:#4a4f5a">3</div>
<div class="t " style="left:1803.0px;top:556.5px;font-size:23.5px;color:#6b717d;">Step 3</div>
<div class="t " style="left:1803.0px;top:587.9px;font-size:26.5px;color:#5b6070;font-weight:700;">Pricing</div>
<div class="a" style="left:1722.5px;top:668.5px;width:63px;height:63px;border-radius:50%;background:#ffffff;border:2px solid #d8dade;display:flex;align-items:center;justify-content:center;font-size:28px;font-weight:700;color:#4a4f5a">4</div>
<div class="t " style="left:1803.0px;top:672.8px;font-size:23.5px;color:#6b717d;">Step 4</div>
<div class="t " style="left:1803.0px;top:704.2px;font-size:26.5px;color:#5b6070;font-weight:700;">Coordination</div>
<div class="a" style="left:1722.5px;top:784.3px;width:63px;height:63px;border-radius:50%;background:#ffffff;border:2px solid #d8dade;display:flex;align-items:center;justify-content:center;font-size:28px;font-weight:700;color:#4a4f5a">5</div>
<div class="t " style="left:1803.0px;top:789.1px;font-size:23.5px;color:#6b717d;">Step 5</div>
<div class="t " style="left:1803.0px;top:820.5px;font-size:26.5px;color:#5b6070;font-weight:700;">Generating a quote</div>
<div class="a " style="left:1723.0px;top:1500.5px;width:135.0px;height:71.5px;background:#e6e7ea;border-radius:11px;display:flex;align-items:center;justify-content:center;font-size:27px;font-weight:700;color:#1f2328">Back</div>
<div class="a " style="left:1874.0px;top:1500.5px;width:198.0px;height:71.5px;background:#ecc052;border-radius:11px;display:flex;align-items:center;justify-content:center;font-size:27px;font-weight:700;color:#2a2410">Continue</div>
<script>(function(){var s=window.innerWidth/2880;if(s>0&&Math.abs(s-1)>0.01){document.documentElement.style.zoom=s;}})();</script>
</body></html>
